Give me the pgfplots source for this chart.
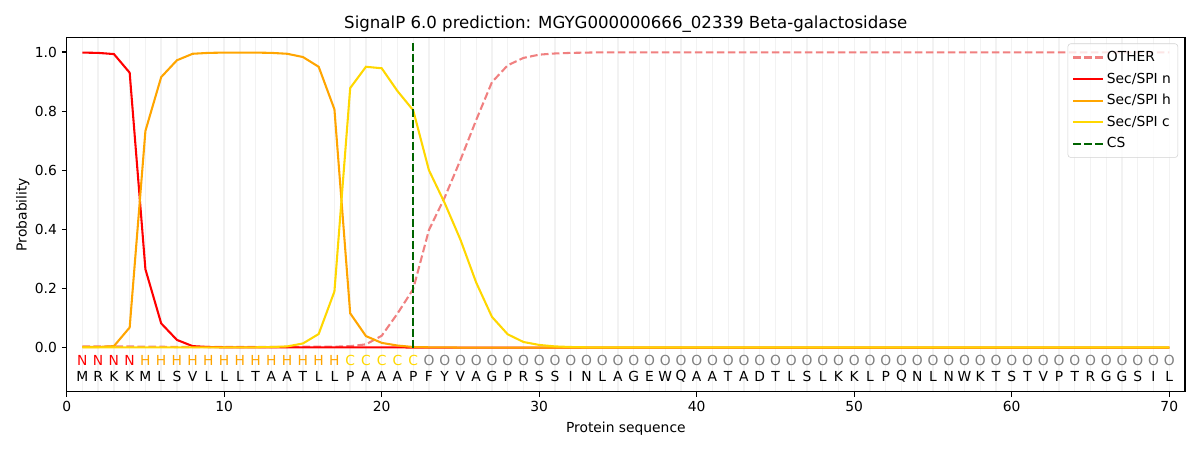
\documentclass[border=0pt]{standalone}
\usepackage{pgfplots}
\usepackage{pgfplotstable}
\pgfplotsset{compat=1.18}
\usepackage{fontspec}
\setmainfont{DejaVu Sans}
\definecolor{cOther}{HTML}{F08080}
\definecolor{cN}{HTML}{FF0000}
\definecolor{cH}{HTML}{FFA500}
\definecolor{cC}{HTML}{FFD700}
\definecolor{cCS}{HTML}{006400}
\definecolor{cO}{HTML}{808080}
\pgfplotstableread{
x other n h c
1 0.004 0.998 0.002 0.001
2 0.004 0.997 0.002 0.001
3 0.004 0.993 0.005 0.001
4 0.004 0.930 0.068 0.001
5 0.003 0.265 0.733 0.001
6 0.003 0.082 0.915 0.001
7 0.002 0.026 0.972 0.001
8 0.002 0.005 0.994 0.001
9 0.002 0.002 0.997 0.001
10 0.002 0.001 0.998 0.001
11 0.002 0.001 0.998 0.001
12 0.002 0.001 0.998 0.001
13 0.002 0.001 0.997 0.002
14 0.002 0.001 0.994 0.004
15 0.003 0.001 0.983 0.014
16 0.003 0.001 0.950 0.046
17 0.003 0.001 0.806 0.190
18 0.005 0.001 0.116 0.878
19 0.011 0.001 0.039 0.950
20 0.040 0.001 0.016 0.945
21 0.115 0.001 0.007 0.868
22 0.198 0.000 0.002 0.803
23 0.398 0.000 0.001 0.600
24 0.508 0.000 0.001 0.489
25 0.635 0.000 0.000 0.365
26 0.770 0.000 0.000 0.220
27 0.898 0.000 0.000 0.104
28 0.955 0.000 0.000 0.045
29 0.980 0.000 0.000 0.019
30 0.991 0.000 0.000 0.009
31 0.995 0.000 0.000 0.004
32 0.997 0.000 0.000 0.002
33 0.998 0.000 0.000 0.001
34 0.999 0.000 0.000 0.001
35 0.999 0.000 0.000 0.001
36 0.999 0.000 0.000 0.001
37 0.999 0.000 0.000 0.001
38 0.999 0.000 0.000 0.001
39 0.999 0.000 0.000 0.001
40 0.999 0.000 0.000 0.001
41 0.999 0.000 0.000 0.001
42 0.999 0.000 0.000 0.001
43 0.999 0.000 0.000 0.001
44 0.999 0.000 0.000 0.001
45 0.999 0.000 0.000 0.001
46 0.999 0.000 0.000 0.001
47 0.999 0.000 0.000 0.001
48 0.999 0.000 0.000 0.001
49 0.999 0.000 0.000 0.001
50 0.999 0.000 0.000 0.001
51 0.999 0.000 0.000 0.001
52 0.999 0.000 0.000 0.001
53 0.999 0.000 0.000 0.001
54 0.999 0.000 0.000 0.001
55 0.999 0.000 0.000 0.001
56 0.999 0.000 0.000 0.001
57 0.999 0.000 0.000 0.001
58 0.999 0.000 0.000 0.001
59 0.999 0.000 0.000 0.001
60 0.999 0.000 0.000 0.001
61 0.999 0.000 0.000 0.001
62 0.999 0.000 0.000 0.001
63 0.999 0.000 0.000 0.001
64 0.999 0.000 0.000 0.001
65 0.999 0.000 0.000 0.001
66 0.999 0.000 0.000 0.001
67 0.999 0.000 0.000 0.001
68 0.999 0.000 0.000 0.001
69 0.999 0.000 0.000 0.001
70 0.999 0.000 0.000 0.001
}\probs
\pgfplotstableread{
x y aa
1 -0.098 M
2 -0.098 R
3 -0.098 K
4 -0.098 K
5 -0.098 M
6 -0.098 L
7 -0.098 S
8 -0.098 V
9 -0.098 L
10 -0.098 L
11 -0.098 L
12 -0.098 T
13 -0.098 A
14 -0.098 A
15 -0.098 T
16 -0.098 L
17 -0.098 L
18 -0.098 P
19 -0.098 A
20 -0.098 A
21 -0.098 A
22 -0.098 P
23 -0.098 F
24 -0.098 Y
25 -0.098 V
26 -0.098 A
27 -0.098 G
28 -0.098 P
29 -0.098 R
30 -0.098 S
31 -0.098 S
32 -0.098 I
33 -0.098 N
34 -0.098 L
35 -0.098 A
36 -0.098 G
37 -0.098 E
38 -0.098 W
39 -0.098 Q
40 -0.098 A
41 -0.098 A
42 -0.098 T
43 -0.098 A
44 -0.098 D
45 -0.098 T
46 -0.098 L
47 -0.098 S
48 -0.098 L
49 -0.098 K
50 -0.098 K
51 -0.098 L
52 -0.098 P
53 -0.098 Q
54 -0.098 N
55 -0.098 L
56 -0.098 N
57 -0.098 W
58 -0.098 K
59 -0.098 T
60 -0.098 S
61 -0.098 T
62 -0.098 V
63 -0.098 P
64 -0.098 T
65 -0.098 R
66 -0.098 G
67 -0.098 G
68 -0.098 S
69 -0.098 I
70 -0.098 L
}\seqtab
\pgfplotstableread{
x y lab
1 -0.045 N
2 -0.045 N
3 -0.045 N
4 -0.045 N
}\labN
\pgfplotstableread{
x y lab
5 -0.045 H
6 -0.045 H
7 -0.045 H
8 -0.045 H
9 -0.045 H
10 -0.045 H
11 -0.045 H
12 -0.045 H
13 -0.045 H
14 -0.045 H
15 -0.045 H
16 -0.045 H
17 -0.045 H
}\labH
\pgfplotstableread{
x y lab
18 -0.045 C
19 -0.045 C
20 -0.045 C
21 -0.045 C
22 -0.045 C
}\labC
\pgfplotstableread{
x y lab
23 -0.045 O
24 -0.045 O
25 -0.045 O
26 -0.045 O
27 -0.045 O
28 -0.045 O
29 -0.045 O
30 -0.045 O
31 -0.045 O
32 -0.045 O
33 -0.045 O
34 -0.045 O
35 -0.045 O
36 -0.045 O
37 -0.045 O
38 -0.045 O
39 -0.045 O
40 -0.045 O
41 -0.045 O
42 -0.045 O
43 -0.045 O
44 -0.045 O
45 -0.045 O
46 -0.045 O
47 -0.045 O
48 -0.045 O
49 -0.045 O
50 -0.045 O
51 -0.045 O
52 -0.045 O
53 -0.045 O
54 -0.045 O
55 -0.045 O
56 -0.045 O
57 -0.045 O
58 -0.045 O
59 -0.045 O
60 -0.045 O
61 -0.045 O
62 -0.045 O
63 -0.045 O
64 -0.045 O
65 -0.045 O
66 -0.045 O
67 -0.045 O
68 -0.045 O
69 -0.045 O
70 -0.045 O
}\labO
\pgfplotsset{
  lettrow/.style={only marks, mark=none, forget plot,
    nodes near coords, point meta=explicit symbolic,
    every node near coord/.append style={anchor=center, inner sep=0pt,
      font=\fontsize{10}{12}\selectfont, text=#1}},
}
\begin{document}
\begin{tikzpicture}
\useasboundingbox (0,0) rectangle (864bp,324bp);
\begin{axis}[
  at={(48bp,41.8bp)}, anchor=south west,
  scale only axis, width=805.2bp, height=255.4bp,
  xmin=0, xmax=71, ymin=-0.15, ymax=1.05,
  xtick={0,10,...,70}, ytick={0,0.2,...,1.0},
  minor xtick={1,2,...,70},
  xminorgrids=true,
  minor x grid style={gray!10, line width=1pt},
  minor tick length=0pt,
  major tick length=3.5pt,
  tick align=outside,
  xtick pos=bottom, ytick pos=left,
  tick style={black, line width=0.8pt},
  axis line style={line width=0.8pt},
  yticklabel style={/pgf/number format/.cd, fixed, fixed zerofill, precision=1},
  /pgf/number format/assume math mode=true,
  ticklabel style={font=\fontsize{10}{12}\selectfont},
  label style={font=\fontsize{10}{12}\selectfont},
  ylabel style={xshift=0bp, yshift=-3bp},
  xlabel={Protein sequence}, ylabel={Probability},
  title={SignalP 6.0 prediction: MGYG000000666\_02339 Beta-galactosidase},
  title style={font=\fontsize{12}{14}\selectfont, yshift=-6bp},
  legend style={at={(1,1)}, anchor=north east, xshift=-5bp, yshift=-4.5bp,
    draw=gray!35, rounded corners=2pt, fill=white, fill opacity=0.8, text opacity=1,
    font=\fontsize{10}{12}\selectfont, inner xsep=3pt, inner ysep=3.5pt, row sep=2.6pt},
  legend cell align=left,
  legend image code/.code={\draw[#1] (0bp,0bp) -- (21.6bp,0bp);},
]
\addplot[cOther, line width=1.5pt, dash pattern=on 5.55pt off 2.4pt] table[x=x, y=other] {\probs};
\addlegendentry{OTHER}
\addplot[cN, line width=1.5pt] table[x=x, y=n] {\probs};
\addlegendentry{Sec/SPI n}
\addplot[cH, line width=1.5pt] table[x=x, y=h] {\probs};
\addlegendentry{Sec/SPI h}
\addplot[cC, line width=1.5pt] table[x=x, y=c] {\probs};
\addlegendentry{Sec/SPI c}
\addplot[cCS, line width=1.5pt, dash pattern=on 5.55pt off 2.4pt] coordinates {(22,0) (22,1.04)};
\addlegendentry{CS}
\addplot[lettrow=cN] table[x=x, y=y, meta=lab] {\labN};
\addplot[lettrow=cH] table[x=x, y=y, meta=lab] {\labH};
\addplot[lettrow=cC] table[x=x, y=y, meta=lab] {\labC};
\addplot[lettrow=cO] table[x=x, y=y, meta=lab] {\labO};
\addplot[lettrow=black] table[x=x, y=y, meta=aa] {\seqtab};
\end{axis}
\end{tikzpicture}
\end{document}
